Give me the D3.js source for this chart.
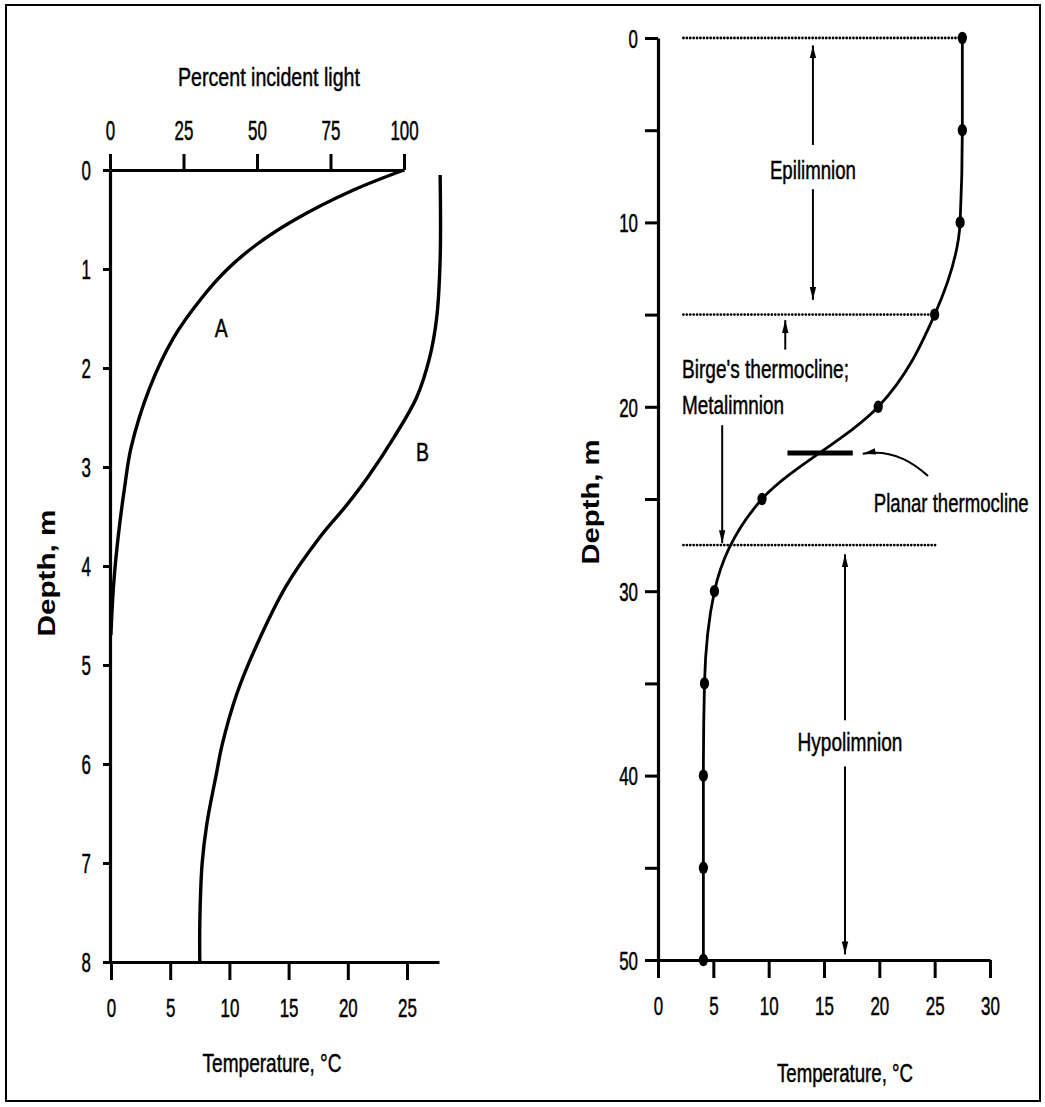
<!DOCTYPE html>
<html><head><meta charset="utf-8">
<script src="https://cdn.jsdelivr.net/npm/d3@7"></script>
<style>html,body{margin:0;padding:0;background:#fff}svg{display:block}</style>
</head><body>
<script>
// ---------- data (left panel) ----------
const lightDepth = [0, 0.2, 0.5, 0.75, 1, 1.3, 1.7, 2.2, 2.8, 3.2, 3.7, 4.2, 4.7];
const lightPct   = [100, 83, 63, 50, 40, 31, 21.5, 13.5, 7.2, 5, 2.8, 1.2, 0.3];
const tempDepthB = [0.05, 0.9, 1.5, 1.9, 2.3, 2.7, 3.1, 3.4, 3.7, 4.2, 4.8, 5.3, 5.8, 6.1, 6.6, 7.0, 7.6, 8];
const tempValsB  = [27.8, 27.8, 27.5, 26.9, 25.8, 23.9, 21.7, 19.8, 17.7, 14.8, 12.3, 10.6, 9.4, 8.9, 8.1, 7.7, 7.5, 7.5];
const leftDepthTicks = [0,1,2,3,4,5,6,7,8];
const pctTicks = [0,25,50,75,100];
const leftTempTicks = [0,5,10,15,20,25];

// ---------- data (right panel) ----------
const profDepth = [0, 5, 10, 15, 20, 25, 30, 35, 40, 45, 50];
const profTemp  = [27.5, 27.5, 27.3, 25, 19.9, 9.4, 5.1, 4.2, 4.1, 4.1, 4.1];
const rightDepthTicks = [0,5,10,15,20,25,30,35,40,45,50];
const rightDepthLabels = [0,10,20,30,40,50];
const rightTempTicks = [0,5,10,15,20,25,30];
const layerDepths = [0, 15, 27.5];          // dotted boundaries
const layerEndTemp = [27.3, 25.0, 25.1];
const planarDepth = 22.5, planarFrom = 11.7, planarTo = 17.6;

const W = 1045, H = 1107;
const FONT = "'Liberation Sans', Arial, sans-serif";
const svg = d3.select("body").append("svg").attr("width", W).attr("height", H);

svg.append("defs").append("marker")
  .attr("id","ah").attr("markerUnits","userSpaceOnUse")
  .attr("viewBox","0 0 13 7").attr("refX",13).attr("refY",3.5)
  .attr("markerWidth",13).attr("markerHeight",7).attr("orient","auto")
  .append("path").attr("d","M0,0.3 L13,3.5 L0,6.7 Z").attr("fill","#000");

// frame
svg.append("rect").attr("x",6).attr("y",5).attr("width",1034).attr("height",1096)
  .attr("fill","none").attr("stroke","#000").attr("stroke-width",2);

// text drawn at natural size, then squeezed horizontally to the target width
function txt(x, y, s, size, len, o = {}) {
  const g = svg.append("g");
  const t = g.append("text").attr("x", 0).attr("y", 0).attr("dy","0.36em")
    .attr("font-family", FONT).attr("font-size", size)
    .attr("font-weight", o.bold ? "bold" : "normal")
    .attr("text-anchor", o.anchor || "middle").attr("fill","#000")
    .attr("stroke","#000").attr("stroke-width", o.bold ? 0 : 0.45).text(s);
  const nat = t.node().getComputedTextLength();
  const sx = len ? len / nat : 1;
  g.attr("transform", `translate(${x},${y})` + (o.rotate ? ` rotate(${o.rotate})` : "") + ` scale(${sx},1)`);
  return t;
}
function styleAxis(g, size) {
  g.select(".domain").attr("stroke-width", 3.2).attr("stroke","#000");
  g.selectAll(".tick line").attr("stroke-width", 3).attr("stroke","#000");
  g.selectAll(".tick text").attr("font-family", FONT).attr("font-size", size).attr("fill","#000")
    .attr("stroke","#000").attr("stroke-width",0.5)
    .attr("textLength", d => String(d).length * 9.4).attr("lengthAdjust","spacingAndGlyphs");
}

// ================= LEFT PANEL =================
const yL = d3.scaleLinear([0, 8], [170, 962]);
const xPct = d3.scaleLinear([0, 100], [110, 404]);
const xTL = d3.scaleLinear([0, 27.7], [111, 111 + 27.7 * 11.84]);

const gTop = svg.append("g").attr("transform", `translate(0,${yL(0)})`)
  .call(d3.axisTop(xPct).tickValues(pctTicks).tickSize(16).tickSizeOuter(0).tickPadding(14));
styleAxis(gTop, 27);
const gLY = svg.append("g").attr("transform", `translate(${xPct(0)},0)`)
  .call(d3.axisLeft(yL).tickValues(leftDepthTicks).tickSize(7).tickSizeOuter(0).tickPadding(12));
styleAxis(gLY, 27);
gLY.selectAll(".tick text").attr("dy","0.36em");
const gLB = svg.append("g").attr("transform", `translate(0,${yL(8)})`)
  .call(d3.axisBottom(xTL).tickValues(leftTempTicks).tickSize(18).tickSizeOuter(0).tickPadding(19));
styleAxis(gLB, 26);

const lightPts = lightDepth.map((d, i) => [xPct(lightPct[i]), yL(d)]);
svg.append("path").attr("d", d3.line().curve(d3.curveCatmullRom.alpha(0.5))(lightPts))
  .attr("fill","none").attr("stroke","#000").attr("stroke-width",3.4).attr("stroke-linejoin","round");
const tempPtsB = tempDepthB.map((d, i) => [xTL(tempValsB[i]), yL(d)]);
svg.append("path").attr("d", d3.line().curve(d3.curveCatmullRom.alpha(0.5))(tempPtsB))
  .attr("fill","none").attr("stroke","#000").attr("stroke-width",3.4);

txt(xPct(50) + 12, 77, "Percent incident light", 25, 182);
txt(47, 573, "Depth,  m", 23, 127, {bold: true, rotate: -90});
txt(272, 1063, "Temperature, °C", 25, 139);
txt(xPct(37.8), yL(1.6), "A", 25, 13);
txt(xTL(26.3), yL(2.85), "B", 25, 13);

// ================= RIGHT PANEL =================
const yR = d3.scaleLinear([0, 50], [38, 960]);
const xTR = d3.scaleLinear([0, 30], [658, 990]);

const gRY = svg.append("g").attr("transform", `translate(${xTR(0)},0)`)
  .call(d3.axisLeft(yR).tickValues(rightDepthTicks).tickSize(13).tickSizeOuter(0).tickPadding(7)
    .tickFormat(d => rightDepthLabels.includes(d) ? d : ""));
styleAxis(gRY, 26);
gRY.selectAll(".tick text").attr("dy","0.36em");
const gRB = svg.append("g").attr("transform", `translate(0,${yR(50)})`)
  .call(d3.axisBottom(xTR).tickValues(rightTempTicks).tickSize(18).tickSizeOuter(0).tickPadding(19));
styleAxis(gRB, 26);

// dotted layer boundaries
layerDepths.forEach((d, i) => {
  svg.append("line").attr("x1", xTR(2.3)).attr("x2", xTR(layerEndTemp[i]))
    .attr("y1", yR(d)).attr("y2", yR(d))
    .attr("stroke","#000").attr("stroke-width",2.8).attr("stroke-linecap","round")
    .attr("stroke-dasharray","0,3.4");
});

const profPts = profDepth.map((d, i) => [xTR(profTemp[i]), yR(d)]);
svg.append("path").attr("d", d3.line().curve(d3.curveMonotoneY)(profPts))
  .attr("fill","none").attr("stroke","#000").attr("stroke-width",2.8);
svg.selectAll("ellipse.pt").data(profPts).enter().append("ellipse")
  .attr("cx", d => d[0]).attr("cy", d => d[1]).attr("rx",4.6).attr("ry",6.2).attr("fill","#000");

// planar thermocline bar
svg.append("line").attr("x1", xTR(planarFrom)).attr("x2", xTR(planarTo))
  .attr("y1", yR(planarDepth)).attr("y2", yR(planarDepth))
  .attr("stroke","#000").attr("stroke-width",5);

function arrow(t, d1, d2) {
  svg.append("line").attr("x1", xTR(t)).attr("x2", xTR(t)).attr("y1", yR(d1)).attr("y2", yR(d2))
    .attr("stroke","#000").attr("stroke-width",2).attr("marker-end","url(#ah)");
}
arrow(14.0, 5.8, 0.4);
arrow(14.0, 8.2, 14.2);
arrow(11.5, 16.9, 15.3);
arrow(5.8, 21.0, 27.4);
arrow(16.9, 37.0, 28.0);
arrow(16.9, 39.5, 49.7);
svg.append("path")
  .attr("d", `M${xTR(24.4)},${yR(23.75)} Q${xTR(21.6)},${yR(22.2)} ${xTR(18.5)},${yR(22.55)}`)
  .attr("fill","none").attr("stroke","#000").attr("stroke-width",2).attr("marker-end","url(#ah)");

txt(xTR(14.0), yR(7.16), "Epilimnion", 25, 86);
txt(xTR(2.17), yR(17.95), "Birge's thermocline;", 25, 167, {anchor: "start"});
txt(xTR(2.17), yR(19.9), "Metalimnion", 25, 102, {anchor: "start"});
txt(xTR(19.5), yR(25.2), "Planar thermocline", 25, 155, {anchor: "start"});
txt(xTR(17.35), yR(38.2), "Hypolimnion", 25, 105);
txt(591, 502, "Depth,  m", 23, 125, {bold: true, rotate: -90});
txt(845, 1073, "Temperature, °C", 25, 136);
</script>
</body></html>
